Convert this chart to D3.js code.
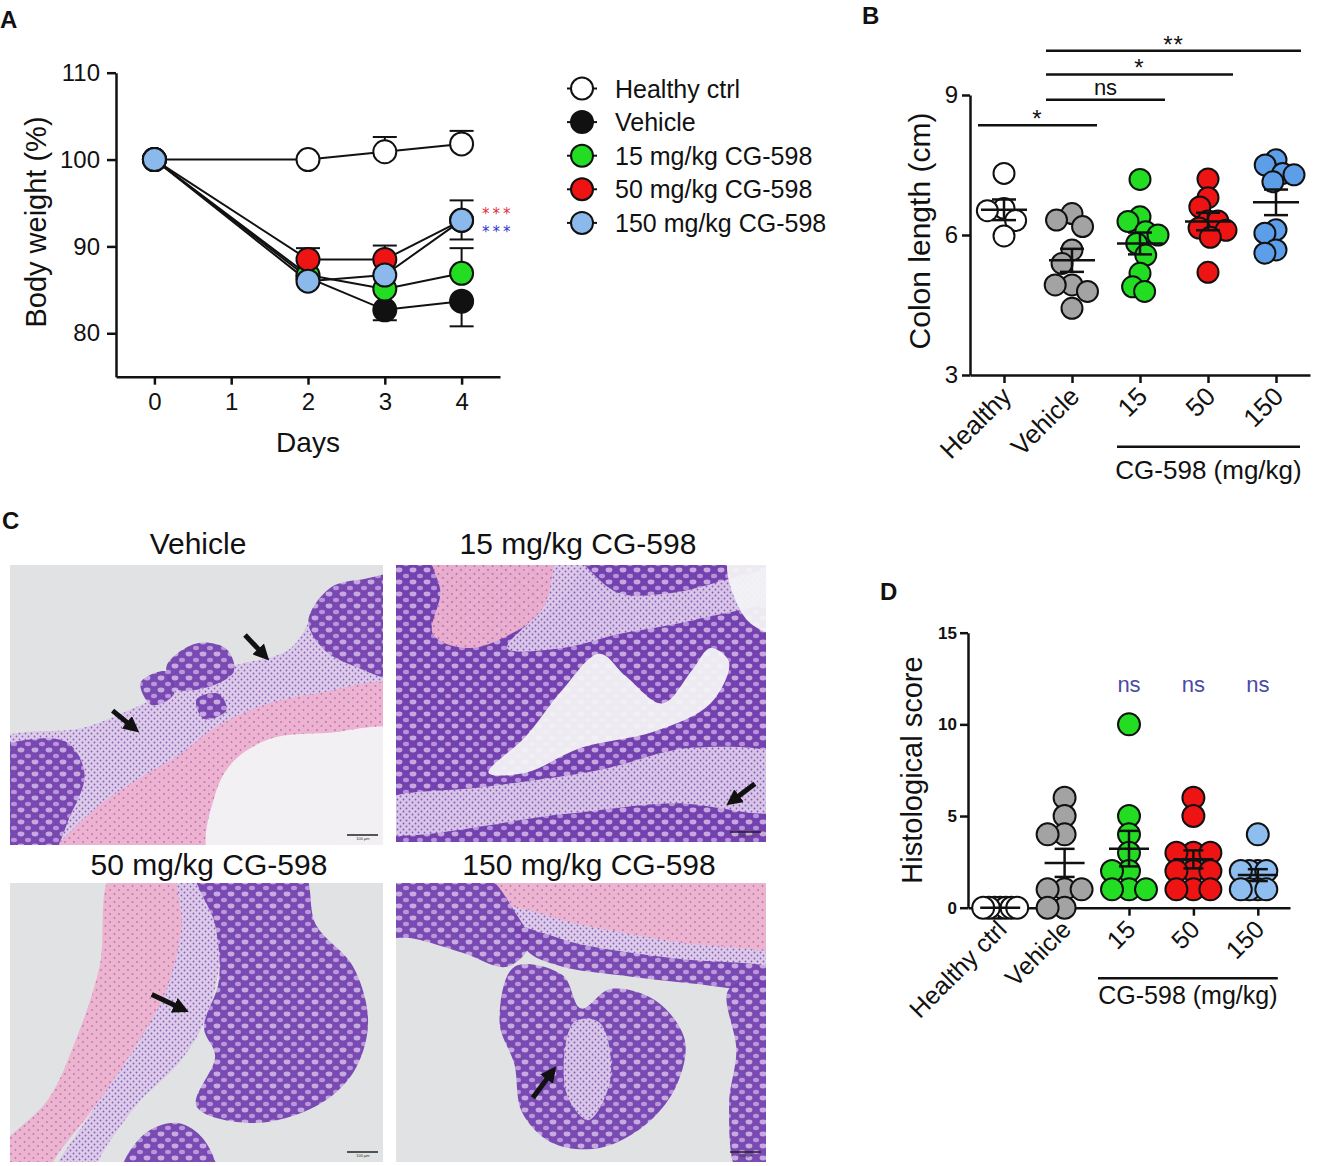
<!DOCTYPE html>
<html><head><meta charset="utf-8">
<script src="https://cdn.jsdelivr.net/npm/d3@7"></script>
<style>body{margin:0;background:#fff;} svg{display:block;} text{font-family:'Liberation Sans',Arial,Helvetica,sans-serif;}</style>
</head><body><svg id="fig" width="1317" height="1166"></svg>
<script>
// ---------------- DATA ----------------
// Panel A: body weight (%)
const days = [0, 2, 3, 4];
const dayTicks = [0, 1, 2, 3, 4];
const bwTicks = [80, 90, 100, 110];
const groupNames = ["Healthy ctrl", "Vehicle", "15 mg/kg CG-598", "50 mg/kg CG-598", "150 mg/kg CG-598"];
const healthyBW = [100, 100, 100.9, 101.8];
const vehicleBW = [100, 86.4, 82.7, 83.7];
const cg15BW = [100, 86.7, 85.1, 86.9];
const cg50BW = [100, 88.5, 88.5, 93.0];
const cg150BW = [100, 86.0, 86.7, 93.0];
// SEM (sign = direction of the half error bar)
const healthyErr = [0, 0, 1.7, 1.5];
const vehicleErr = [0, 0, -1.2, -2.9];
const cg15Err = [0, 0, 0, 2.9];
const cg50Err = [0, 1.3, 1.6, -2.2];
const cg150Err = [0, 0, 0, 2.3];
const starsA = ["***", "***"];

// Panel B: colon length (cm)
const catsB = ["Healthy", "Vehicle", "15", "50", "150"];
const colonTicks = [3, 6, 9];
const colonHealthy = [7.32, 6.57, 6.52, 6.31, 5.98];
const colonVehicle = [6.46, 6.32, 6.18, 5.68, 5.39, 4.93, 4.93, 4.79, 4.43];
const colon15 = [7.19, 6.39, 6.29, 6.07, 6.0, 5.82, 5.57, 5.18, 4.89, 4.79];
const colon50 = [7.2, 6.8, 6.6, 6.3, 6.3, 6.15, 6.1, 5.95, 5.2];
const colon150 = [7.61, 7.5, 7.32, 7.29, 7.14, 6.11, 6.04, 5.68, 5.61];
const sigB = [["Healthy", "Vehicle", "*"], ["Vehicle", "15", "ns"], ["Vehicle", "50", "*"], ["Vehicle", "150", "**"]];

// Panel C: titles
const histTitles = ["Vehicle", "15 mg/kg CG-598", "50 mg/kg CG-598", "150 mg/kg CG-598"];

// Panel D: histological score
const catsD = ["Healthy ctrl", "Vehicle", "15", "50", "150"];
const histTicks = [0, 5, 10, 15];
const histHealthy = [0, 0, 0, 0, 0, 0, 0];
const histVehicle = [6, 5, 4, 4, 1, 1, 1, 0, 0];
const hist15 = [10, 5, 4, 3, 2, 2, 1, 1, 1];
const hist50 = [6, 5, 3, 3, 3, 2, 2, 2, 1, 1, 1];
const hist150 = [4, 2, 2, 2, 2, 1, 1, 1, 1];
const sigD = ["", "", "ns", "ns", "ns"];
const doseLabel = "CG-598 (mg/kg)";

// ---------------- DRAW ----------------
const FONT = "'Liberation Sans', Arial, Helvetica, sans-serif";
const INK = "#111";
const svg = d3.select("#fig");
const defs = svg.append("defs");

function styleAxis(g, sw, fs, bold) {
  g.attr("font-family", FONT).attr("font-size", fs);
  g.select(".domain").attr("stroke", INK).attr("stroke-width", sw);
  g.selectAll(".tick line").attr("stroke", INK).attr("stroke-width", sw);
  g.selectAll(".tick text").attr("fill", INK).attr("font-weight", bold ? "bold" : "normal");
}
function txt(g, x, y, s, fs, opts = {}) {
  const t = g.append("text").attr("x", x).attr("y", y).text(s)
    .attr("font-size", fs).attr("fill", opts.fill || INK)
    .attr("text-anchor", opts.anchor || "start")
    .attr("font-weight", opts.bold ? "bold" : "normal");
  if (opts.rotate !== undefined) t.attr("transform", `rotate(${opts.rotate},${x},${y})`);
  if (opts.ls) t.attr("letter-spacing", opts.ls);
  if (opts.family) t.style("font-family", opts.family);
  return t;
}
function swarm(values, y, cx, d, maxHalf) {
  const pts = values.map((v, i) => ({ v, y: y(v), i }));
  const order = pts.slice().sort((a, b) => a.y - b.y);
  const placed = [];
  for (const p of order) {
    const cands = [0];
    for (const q of placed) {
      const dy = Math.abs(p.y - q.y);
      if (dy < d) { const dx = Math.sqrt(d * d - dy * dy); cands.push(q.x + dx, q.x - dx); }
    }
    cands.sort((a, b) => Math.abs(a) - Math.abs(b) || a - b);
    for (const c of cands) {
      if (placed.every(q => (q.x - c) ** 2 + (q.y - p.y) ** 2 >= d * d - 0.01)) { p.x = c; break; }
    }
    placed.push(p);
  }
  const m = d3.max(placed, p => Math.abs(p.x));
  if (maxHalf && m > maxHalf) placed.forEach(p => p.x *= maxHalf / m);
  placed.forEach(p => p.x += cx);
  return placed;
}

// ===== Panel letters =====
txt(svg, 0, 28, "A", 24, { bold: true });
txt(svg, 862, 24, "B", 24, { bold: true });
txt(svg, 2, 529, "C", 24, { bold: true });
txt(svg, 880, 600, "D", 24, { bold: true });

// ===== Panel A =====
(function () {
  const g = svg.append("g");
  const x = d3.scaleLinear().domain([-0.5, 4.5]).range([116, 500]);
  const y = d3.scaleLinear().domain([75, 110]).range([376.7, 72.7]);
  g.append("g").attr("transform", "translate(116,0)")
    .call(d3.axisLeft(y).tickValues(bwTicks).tickFormat(d3.format("d")).tickSize(9).tickSizeOuter(0).tickPadding(7))
    .call(styleAxis, 2.5, 24);
  g.append("g").attr("transform", "translate(0,376.7)")
    .call(d3.axisBottom(x).tickValues(dayTicks).tickFormat(d3.format("d")).tickSize(8).tickSizeOuter(0).tickPadding(8))
    .call(styleAxis, 2.5, 24);
  txt(g, 308, 452, "Days", 28, { anchor: "middle" });
  txt(g, 46, 222, "Body weight (%)", 29, { anchor: "middle", rotate: -90 });

  const vals = [healthyBW, vehicleBW, cg15BW, cg50BW, cg150BW];
  const errs = [healthyErr, vehicleErr, cg15Err, cg50Err, cg150Err];
  const fills = ["#ffffff", "#111111", "#22dd22", "#ee1414", "#8cb9ec"];
  const series = groupNames.map((n, k) => ({ n, fill: fills[k], pts: days.map((d, i) => ({ d, v: vals[k][i], e: errs[k][i] })) }));
  const line = d3.line().x(p => x(p.d)).y(p => y(p.v));
  series.forEach(s => {
    s.pts.filter(p => p.e !== 0).forEach(p => {
      g.append("line").attr("x1", x(p.d)).attr("x2", x(p.d)).attr("y1", y(p.v)).attr("y2", y(p.v + p.e)).attr("stroke", INK).attr("stroke-width", 2);
      g.append("line").attr("x1", x(p.d) - 12).attr("x2", x(p.d) + 12).attr("y1", y(p.v + p.e)).attr("y2", y(p.v + p.e)).attr("stroke", INK).attr("stroke-width", 2);
    });
  });
  series.forEach(s => g.append("path").attr("d", line(s.pts)).attr("fill", "none").attr("stroke", INK).attr("stroke-width", 2));
  series.forEach(s => g.selectAll(null).data(s.pts).enter().append("circle")
    .attr("cx", p => x(p.d)).attr("cy", p => y(p.v)).attr("r", 11.5)
    .attr("fill", s.fill).attr("stroke", INK).attr("stroke-width", 2));
  // significance stars at day 4
  const yb = y(cg150BW[3]);
  txt(g, 482, yb - 1, starsA[0], 15, { fill: "#e0303c", ls: 3, family: "'DejaVu Sans', sans-serif" });
  txt(g, 482, yb + 17, starsA[1], 15, { fill: "#3535cc", ls: 3, family: "'DejaVu Sans', sans-serif" });
  // legend
  series.forEach((s, i) => {
    const ly = 88.5 + i * 33.6;
    g.append("line").attr("x1", 567).attr("x2", 597).attr("y1", ly).attr("y2", ly).attr("stroke", INK).attr("stroke-width", 2);
    g.append("circle").attr("cx", 582).attr("cy", ly).attr("r", 11).attr("fill", s.fill).attr("stroke", INK).attr("stroke-width", 2);
    txt(g, 615, ly + 9, s.n, 25);
  });
})();

// ===== dot-plot helper (Panels B, D) =====
function dotPanel(cfg) {
  const g = svg.append("g");
  const x = d3.scalePoint().domain(cfg.cats).range(cfg.xr).padding(0.5);
  const y = d3.scaleLinear().domain(cfg.yd).range(cfg.yr);
  g.append("g").attr("transform", `translate(${cfg.xr[0]},0)`)
    .call(d3.axisLeft(y).tickValues(cfg.ticks).tickFormat(d3.format("d")).tickSize(8).tickSizeOuter(0).tickPadding(cfg.tp))
    .call(styleAxis, 2.5, cfg.tfs, cfg.tbold);
  g.append("g").attr("transform", `translate(0,${cfg.yr[0]})`)
    .call(d3.axisBottom(x).tickSize(8).tickSizeOuter(0).tickFormat(""))
    .call(styleAxis, 2.5, 10);
  cfg.data.forEach((vals, k) => {
    const cx = x(cfg.cats[k]);
    const pts = swarm(vals, y, cx, cfg.d, cfg.maxHalf);
    g.selectAll(null).data(pts).enter().append("circle")
      .attr("cx", p => p.x).attr("cy", p => p.y).attr("r", cfg.r)
      .attr("fill", cfg.fills[k]).attr("stroke", INK).attr("stroke-width", 2);
  });
  cfg.data.forEach((vals, k) => {
    const cx = x(cfg.cats[k]);
    const m = d3.mean(vals), sem = d3.deviation(vals) / Math.sqrt(vals.length);
    g.append("line").attr("x1", cx - cfg.mw).attr("x2", cx + cfg.mw).attr("y1", y(m)).attr("y2", y(m)).attr("stroke", INK).attr("stroke-width", 2.5);
    if (sem > 0) {
      g.append("line").attr("x1", cx).attr("x2", cx).attr("y1", y(m - sem)).attr("y2", y(m + sem)).attr("stroke", INK).attr("stroke-width", 2.5);
      [m - sem, m + sem].forEach(v => g.append("line").attr("x1", cx - cfg.cw).attr("x2", cx + cfg.cw).attr("y1", y(v)).attr("y2", y(v)).attr("stroke", INK).attr("stroke-width", 2.5));
    }
  });
  cfg.cats.forEach(c => txt(g, x(c) + cfg.lab[0], cfg.lab[1], c, cfg.lfs, { anchor: "end", rotate: -45 }));
  const x0 = x(cfg.cats[2]) - cfg.bracket[0], x1 = x(cfg.cats[4]) + cfg.bracket[1];
  g.append("line").attr("x1", x0).attr("x2", x1).attr("y1", cfg.bracket[2]).attr("y2", cfg.bracket[2]).attr("stroke", INK).attr("stroke-width", 2.5);
  txt(g, (x0 + x1) / 2 + cfg.bracket[4], cfg.bracket[3], doseLabel, cfg.lfs, { anchor: "middle" });
  txt(g, cfg.title[0], cfg.title[1], cfg.title[2], cfg.title[3], { anchor: "middle", rotate: -90 });
  return { g, x, y };
}

// ===== Panel B =====
(function () {
  const P = dotPanel({
    cats: catsB, xr: [970, 1310], yd: [3, 9], yr: [375, 95], ticks: colonTicks, tp: 4, tfs: 24, tbold: false,
    data: [colonHealthy, colonVehicle, colon15, colon50, colon150],
    fills: ["#ffffff", "#a3a3a3", "#22dd22", "#ee1414", "#5d9ee8"],
    r: 10.5, d: 16.8, maxHalf: 18, mw: 23, cw: 12,
    lab: [9, 398], lfs: 26, bracket: [23, 24, 446.7, 479, 0],
    title: [930, 231, "Colon length (cm)", 30]
  });
  const levels = [8.35, 8.9, 9.44, 9.95];
  sigB.forEach((s, i) => {
    const x0 = P.x(s[0]) - 26, x1 = P.x(s[1]) + 25, yy = P.y(levels[i]);
    P.g.append("line").attr("x1", x0).attr("x2", x1).attr("y1", yy).attr("y2", yy).attr("stroke", INK).attr("stroke-width", 2.5);
    if (s[2] === "ns") txt(P.g, (x0 + x1) / 2, yy - 5, s[2], 22, { anchor: "middle" });
    else txt(P.g, (x0 + x1) / 2, yy + 2, s[2], 24, { anchor: "middle", ls: 1 });
  });
})();

// ===== Panel D =====
(function () {
  const P = dotPanel({
    cats: catsD, xr: [968, 1290], yd: [0, 15], yr: [907.7, 632.7], ticks: histTicks, tp: 3, tfs: 17, tbold: true,
    data: [histHealthy, histVehicle, hist15, hist50, hist150],
    fills: ["#ffffff", "#a3a3a3", "#22dd22", "#ee1414", "#8ebef0"],
    r: 11, d: 17.6, maxHalf: 17, mw: 20, cw: 10,
    lab: [8, 931], lfs: 25, bracket: [31, 20, 978.3, 1004, 0],
    title: [922, 770, "Histological score", 29]
  });
  sigD.forEach((s, i) => { if (s) txt(P.g, P.x(catsD[i]), 692, s, 22, { anchor: "middle", fill: "#4a4aa6" }); });
})();

// ===== Panel C (histology micrographs, drawn schematically) =====
(function () {
  const pp = defs.append("pattern").attr("id", "pPurple").attr("patternUnits", "userSpaceOnUse").attr("width", 14).attr("height", 12);
  pp.append("rect").attr("width", 14).attr("height", 12).attr("fill", "#7442ae");
  pp.append("ellipse").attr("cx", 7).attr("cy", 6).attr("rx", 3.4).attr("ry", 2.4).attr("fill", "#c6a7e2");
  [[0, 0], [14, 0], [0, 12], [14, 12]].forEach(c => pp.append("ellipse").attr("cx", c[0]).attr("cy", c[1]).attr("rx", 3).attr("ry", 2.2).attr("fill", "#b892dc"));
  const pk = defs.append("pattern").attr("id", "pPink").attr("patternUnits", "userSpaceOnUse").attr("width", 9).attr("height", 8);
  pk.append("rect").attr("width", 9).attr("height", 8).attr("fill", "#eeb2cf");
  [[2, 2], [6.5, 6]].forEach(c => pk.append("circle").attr("cx", c[0]).attr("cy", c[1]).attr("r", 0.9).attr("fill", "#b46fb4"));
  const lv = defs.append("pattern").attr("id", "pLav").attr("patternUnits", "userSpaceOnUse").attr("width", 6).attr("height", 6);
  lv.append("rect").attr("width", 6).attr("height", 6).attr("fill", "#dccbe9");
  [[1.5, 1.5], [4.5, 4.5]].forEach(c => lv.append("circle").attr("cx", c[0]).attr("cy", c[1]).attr("r", 0.9).attr("fill", "#8456b6"));
  const mk = defs.append("marker").attr("id", "ahead").attr("viewBox", "0 0 10 10").attr("refX", 5).attr("refY", 5)
    .attr("markerWidth", 3.2).attr("markerHeight", 3.2).attr("orient", "auto");
  mk.append("path").attr("d", "M0,0 L10,5 L0,10 z").attr("fill", "#111");

  const FILL = { bg: "#e0e2e4", lum: "#f3f3f5", lav: "url(#pLav)", pink: "url(#pPink)", purple: "url(#pPurple)" };
  const specs = [
    { box: [10, 565, 383, 845], t: [198, 554], base: "bg",
      arrows: [[0.63, 0.25, 0.68, 0.32], [0.275, 0.52, 0.33, 0.58]],
      regions: [
        ["lav", [[-0.05, 0.64], [0.2, 0.58], [0.35, 0.5], [0.48, 0.42], [0.6, 0.36], [0.75, 0.3], [0.85, 0.12], [1.05, 0.05], [1.05, 1.05], [-0.05, 1.05]]],
        ["pink", [[0.12, 1.05], [0.22, 0.88], [0.35, 0.76], [0.45, 0.68], [0.55, 0.58], [0.68, 0.5], [0.82, 0.46], [1.05, 0.44], [1.05, 1.05]]],
        ["lum", [[0.54, 1.05], [0.55, 0.82], [0.6, 0.7], [0.7, 0.62], [0.85, 0.6], [1.05, 0.6], [1.05, 1.05]]],
        ["purple", [[-0.05, 0.68], [0.08, 0.62], [0.16, 0.64], [0.2, 0.75], [0.16, 0.9], [0.1, 1.05], [-0.05, 1.05]]],
        ["purple", [[0.8, 0.2], [0.86, 0.08], [0.95, 0.05], [1.05, 0.04], [1.05, 0.4], [0.92, 0.36], [0.84, 0.3]]],
        ["purple", [[0.42, 0.36], [0.5, 0.28], [0.58, 0.3], [0.6, 0.38], [0.52, 0.44], [0.44, 0.44]]],
        ["purple", [[0.5, 0.48], [0.56, 0.46], [0.58, 0.52], [0.52, 0.55]]],
        ["purple", [[0.35, 0.42], [0.42, 0.38], [0.44, 0.46], [0.38, 0.5]]]
      ] },
    { box: [396, 565, 766, 842], t: [578, 554], base: "purple",
      arrows: [[0.97, 0.79, 0.91, 0.85]],
      regions: [
        ["pink", [[0.1, -0.05], [0.5, -0.05], [0.45, 0.12], [0.35, 0.22], [0.2, 0.3], [0.1, 0.25], [0.12, 0.1]]],
        ["lav", [[0.45, -0.05], [0.6, 0.1], [0.75, 0.1], [1.05, 0.02], [1.05, 0.1], [0.8, 0.2], [0.6, 0.25], [0.45, 0.3], [0.3, 0.3], [0.4, 0.15]]],
        ["lum", [[0.25, 0.75], [0.35, 0.62], [0.45, 0.45], [0.55, 0.32], [0.62, 0.4], [0.72, 0.5], [0.8, 0.38], [0.85, 0.3], [0.9, 0.35], [0.85, 0.5], [0.7, 0.6], [0.5, 0.66], [0.35, 0.75]]],
        ["lav", [[-0.05, 0.86], [0.25, 0.8], [0.55, 0.74], [0.8, 0.66], [1.05, 0.7], [1.05, 0.88], [0.75, 0.86], [0.45, 0.9], [-0.05, 0.96]]],
        ["lum", [[0.9, -0.02], [1.05, -0.02], [1.05, 0.25], [0.95, 0.2]]]
      ] },
    { box: [10, 883, 383, 1162], t: [209, 875], base: "bg",
      arrows: [[0.38, 0.4, 0.46, 0.45]],
      regions: [
        ["pink", [[0.28, -0.05], [0.5, -0.05], [0.47, 0.2], [0.42, 0.4], [0.34, 0.58], [0.24, 0.78], [0.14, 0.95], [0.08, 1.05], [-0.05, 1.05], [-0.05, 0.98], [0.1, 0.78], [0.18, 0.55], [0.24, 0.3]]],
        ["lav", [[0.45, -0.05], [0.56, 0.05], [0.56, 0.3], [0.52, 0.5], [0.45, 0.65], [0.35, 0.78], [0.27, 0.92], [0.2, 1.05], [0.12, 1.05], [0.22, 0.82], [0.34, 0.58], [0.42, 0.38], [0.46, 0.15]]],
        ["purple", [[0.5, -0.05], [0.78, -0.05], [0.82, 0.15], [0.92, 0.3], [0.96, 0.5], [0.92, 0.68], [0.82, 0.8], [0.65, 0.86], [0.5, 0.8], [0.55, 0.62], [0.52, 0.52], [0.56, 0.35], [0.55, 0.15]]],
        ["purple", [[0.3, 1.05], [0.36, 0.9], [0.45, 0.86], [0.52, 0.92], [0.55, 1.05]]]
      ] },
    { box: [396, 883, 766, 1162], t: [589, 875], base: "bg",
      arrows: [[0.37, 0.77, 0.42, 0.68]],
      regions: [
        ["pink", [[0.2, -0.05], [1.05, -0.05], [1.05, 0.28], [0.75, 0.22], [0.5, 0.16], [0.32, 0.1]]],
        ["lav", [[0.3, 0.09], [0.5, 0.15], [0.75, 0.21], [1.05, 0.27], [1.05, 0.32], [0.75, 0.27], [0.5, 0.22], [0.32, 0.16]]],
        ["purple", [[-0.05, -0.05], [0.22, -0.05], [0.32, 0.1], [0.36, 0.22], [0.3, 0.3], [0.18, 0.25], [0.05, 0.2], [-0.05, 0.18]]],
        ["purple", [[0.32, 0.16], [0.5, 0.22], [0.75, 0.27], [1.05, 0.32], [1.05, 0.38], [0.8, 0.36], [0.6, 0.33], [0.45, 0.3], [0.36, 0.25]]],
        ["purple", [[0.32, 0.3], [0.45, 0.33], [0.5, 0.45], [0.58, 0.38], [0.7, 0.42], [0.78, 0.56], [0.76, 0.72], [0.68, 0.86], [0.55, 0.95], [0.42, 0.93], [0.34, 0.82], [0.32, 0.65], [0.28, 0.5]]],
        ["lav", [[0.48, 0.5], [0.55, 0.5], [0.58, 0.7], [0.52, 0.85], [0.46, 0.75]]],
        ["purple", [[0.9, 0.38], [1.05, 0.36], [1.05, 1.05], [0.93, 1.05], [0.9, 0.8], [0.92, 0.6]]]
      ] }
  ];
  specs.forEach((s, k) => {
    const [x0, y0, x1, y1] = s.box;
    const sx = d3.scaleLinear().domain([0, 1]).range([x0, x1]);
    const sy = d3.scaleLinear().domain([0, 1]).range([y0, y1]);
    defs.append("clipPath").attr("id", "hc" + k).append("rect").attr("x", x0).attr("y", y0).attr("width", x1 - x0).attr("height", y1 - y0);
    const g = svg.append("g").attr("clip-path", `url(#hc${k})`);
    g.append("rect").attr("x", x0).attr("y", y0).attr("width", x1 - x0).attr("height", y1 - y0).attr("fill", FILL[s.base]);
    const line = d3.line().x(p => sx(p[0])).y(p => sy(p[1])).curve(d3.curveCatmullRomClosed.alpha(0.5));
    s.regions.forEach(r => g.append("path").attr("d", line(r[1])).attr("fill", FILL[r[0]]).attr("opacity", 0.95));
    s.arrows.forEach(a => g.append("line").attr("x1", sx(a[0])).attr("y1", sy(a[1])).attr("x2", sx(a[2])).attr("y2", sy(a[3]))
      .attr("stroke", "#111").attr("stroke-width", 5).attr("marker-end", "url(#ahead)"));
    g.append("line").attr("x1", x1 - 36).attr("x2", x1 - 5).attr("y1", y1 - 10).attr("y2", y1 - 10).attr("stroke", "#222").attr("stroke-width", 1.5);
    txt(g, x1 - 20, y1 - 5, "100 μm", 4, { anchor: "middle", fill: "#333" });
    txt(svg, s.t[0], s.t[1], histTitles[k], 30, { anchor: "middle" });
  });
})();
</script></body></html>
